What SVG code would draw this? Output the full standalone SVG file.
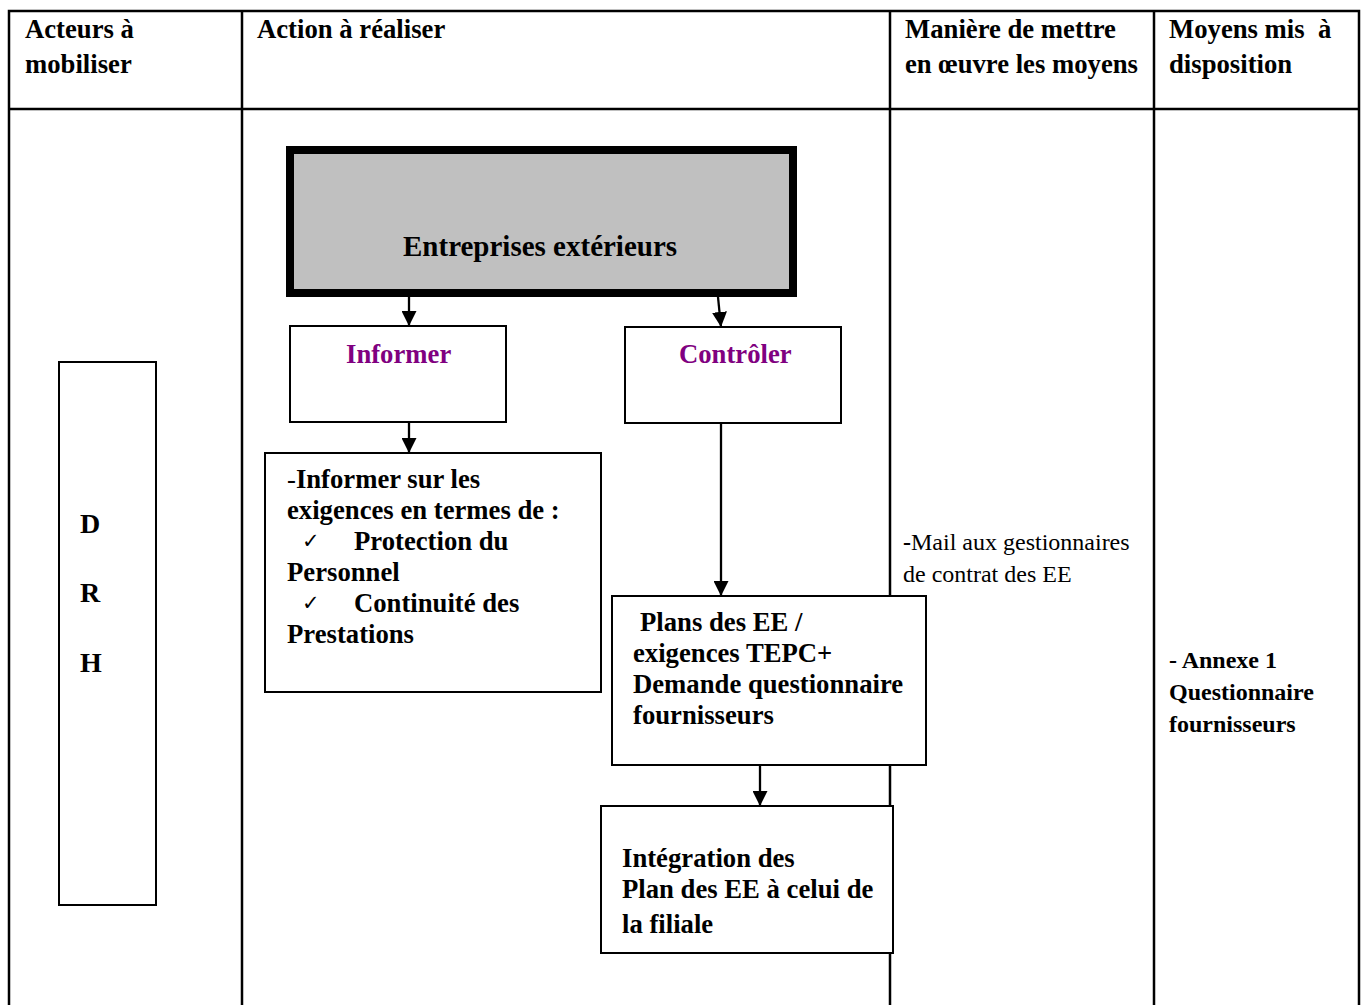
<svg xmlns="http://www.w3.org/2000/svg" width="1362" height="1005" viewBox="0 0 1362 1005">
<style>
text{font-family:"Liberation Serif","Times New Roman",serif;fill:#000}
.h{font-size:26.7px;font-weight:bold}
.b{font-size:26.7px;font-weight:bold}
.p{font-size:26.7px;font-weight:bold;fill:#800080}
.r{font-size:24px;font-weight:bold}
.m{font-size:24px}
.ck{font-family:"DejaVu Sans",sans-serif;font-size:21px}
.tl{stroke:#000;stroke-width:2.5;fill:none}
.box{fill:#fff;stroke:#000;stroke-width:2}
.c{stroke:#000;stroke-width:2.3;fill:none}
</style>
<defs>
<marker id="arr" viewBox="0 0 15 15" refX="15" refY="7.5" markerWidth="15" markerHeight="15" markerUnits="userSpaceOnUse" orient="auto">
<path d="M0,0 L15,7.5 L0,15 Z" fill="#000"/>
</marker>
</defs>
<rect width="1362" height="1005" fill="#fff"/>
<g id="table">
<path class="tl" d="M9,1005 V11 H1359 V1005 M9,109 H1359 M242,11 V1005 M890,11 V1005 M1154,11 V1005"/>
<text class="h" x="25" y="38">Acteurs à</text>
<text class="h" x="25" y="73">mobiliser</text>
<text class="h" x="257" y="38">Action à réaliser</text>
<text class="h" x="905" y="38">Manière de mettre</text>
<text class="h" x="905" y="73">en œuvre les moyens</text>
<text class="h" x="1169" y="38" xml:space="preserve">Moyens mis  à</text>
<text class="h" x="1169" y="73">disposition</text>
</g>
<g id="drh">
<rect class="box" x="59" y="362" width="97" height="543"/>
<text class="b" x="80" y="533" style="font-size:28px">D</text>
<text class="b" x="80" y="602" style="font-size:28px">R</text>
<text class="b" x="80" y="672" style="font-size:28px">H</text>
</g>
<g id="connectors">
<line class="c" x1="409" y1="297" x2="409" y2="326" marker-end="url(#arr)"/>
<line class="c" x1="718" y1="297" x2="721" y2="327" marker-end="url(#arr)"/>
<line class="c" x1="409" y1="422" x2="409" y2="453" marker-end="url(#arr)"/>
<line class="c" x1="721" y1="423" x2="721" y2="596" marker-end="url(#arr)"/>
<line class="c" x1="760" y1="765" x2="760" y2="806" marker-end="url(#arr)"/>
</g>
<g id="entreprises">
<rect x="290" y="150" width="503" height="143" fill="#c0c0c0" stroke="#000" stroke-width="8"/>
<text class="b" x="403" y="256" style="font-size:29px">Entreprises extérieurs</text>
</g>
<g id="informer">
<rect class="box" x="290" y="326" width="216" height="96"/>
<text class="p" x="346" y="363">Informer</text>
</g>
<g id="controler">
<rect class="box" x="625" y="327" width="216" height="96"/>
<text class="p" x="679" y="363">Contrôler</text>
</g>
<g id="info-detail">
<rect class="box" x="265" y="453" width="336" height="239"/>
<text class="b" x="287" y="488"><tspan font-weight="normal">-</tspan>Informer sur les</text>
<text class="b" x="287" y="519">exigences en termes de :</text>
<text class="ck" x="302" y="548">✓</text>
<text class="b" x="354" y="550">Protection du</text>
<text class="b" x="287" y="581">Personnel</text>
<text class="ck" x="302" y="610">✓</text>
<text class="b" x="354" y="612">Continuité des</text>
<text class="b" x="287" y="643">Prestations</text>
</g>
<g id="plans">
<rect class="box" x="612" y="596" width="314" height="169"/>
<text class="b" x="640" y="631">Plans des EE /</text>
<text class="b" x="633" y="662">exigences TEPC+</text>
<text class="b" x="633" y="693">Demande questionnaire</text>
<text class="b" x="633" y="724">fournisseurs</text>
</g>
<g id="integration">
<rect class="box" x="601" y="806" width="292" height="147"/>
<text class="b" x="622" y="867">Intégration des</text>
<text class="b" x="622" y="898">Plan des EE à celui de</text>
<text class="b" x="622" y="933">la filiale</text>
</g>
<g id="maniere">
<text class="m" x="903" y="550"><tspan font-weight="bold">-</tspan>Mail aux gestionnaires</text>
<text class="m" x="903" y="582">de contrat des EE</text>
</g>
<g id="moyens">
<text class="r" x="1169" y="668">- Annexe 1</text>
<text class="r" x="1169" y="700">Questionnaire</text>
<text class="r" x="1169" y="732">fournisseurs</text>
</g>
</svg>
